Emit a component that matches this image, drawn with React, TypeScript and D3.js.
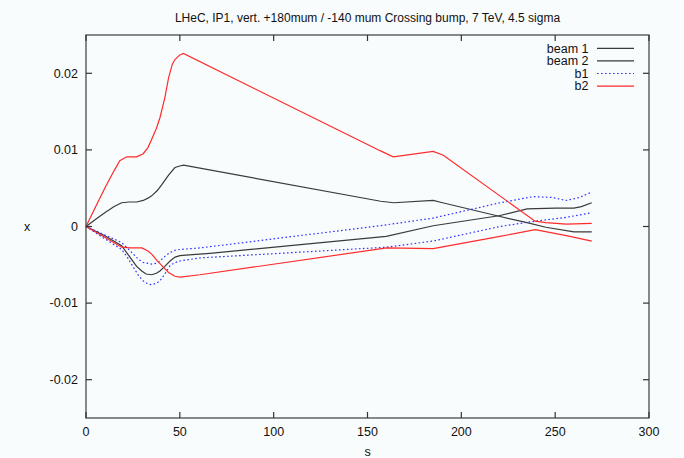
import React from "react";
import * as d3 from "d3";

type P = [number, number];

const titleText = "LHeC, IP1, vert. +180mum / -140 mum Crossing bump, 7 TeV, 4.5 sigma";
const xTicks = [0, 50, 100, 150, 200, 250, 300];
const yTicks = [-0.02, -0.01, 0, 0.01, 0.02];
const yTickLabels = ["-0.02", "-0.01", "0", "0.01", "0.02"];
const legendLabels = ["beam 1", "beam 2", "b1", "b2"];

const beam1: P[] = [
  [0, 0], [5, 0.0009], [10, 0.0018], [15, 0.0026], [19, 0.0031], [23, 0.0032], [27, 0.0032],
  [30.5, 0.0034], [33, 0.0037], [35, 0.004], [38, 0.0047], [40.5, 0.0055], [44, 0.0067],
  [47.4, 0.0077], [50, 0.0079], [52, 0.008], [157, 0.0033], [164, 0.0031], [185, 0.0034],
  [190, 0.0031], [219, 0.0014], [235, 0.0005], [245, -0.0001], [260, -0.0007], [269.5, -0.0007],
];

const beam2: P[] = [
  [0, 0], [10, -0.0012], [19, -0.0025], [23.4, -0.004], [27, -0.0052], [29.7, -0.0058],
  [32, -0.0062], [35, -0.0063], [37.5, -0.0061], [39.4, -0.0058], [42, -0.0052], [44.8, -0.0045],
  [47.5, -0.004], [50, -0.0038], [55, -0.0037], [66, -0.0035], [160, -0.0013], [185, 0.0001],
  [220, 0.0014], [235, 0.0023], [250, 0.0024], [260, 0.0024], [264, 0.0026], [269.5, 0.0031],
];

const b1Upper: P[] = [
  [0, 0], [10, -0.0011], [19, -0.0021], [22, -0.0028], [25.2, -0.0036], [28, -0.0043],
  [30.5, -0.0047], [35, -0.0049], [37.5, -0.0048], [39.4, -0.0045], [42, -0.0039],
  [44.8, -0.0034], [47.5, -0.0031], [50.1, -0.003], [60.7, -0.0028], [156.7, 0.0001],
  [185, 0.0011], [220.6, 0.0031], [238.4, 0.0039], [248, 0.0038], [256, 0.0034], [263, 0.0038],
  [269.5, 0.0045],
];

const b1Lower: P[] = [
  [0, 0], [10, -0.0016], [19, -0.003], [22, -0.004], [25.2, -0.0053], [28, -0.0064],
  [30.5, -0.0071], [33, -0.0075], [35, -0.0076], [37.5, -0.0074], [39.4, -0.0071], [42, -0.0062],
  [44.8, -0.0051], [47.5, -0.0047], [50.1, -0.0045], [60.7, -0.0041], [160.2, -0.0027],
  [185, -0.0019], [220.6, 0.0], [239.3, 0.0007], [256, 0.0012], [269.5, 0.0018],
];

const b2Upper: P[] = [
  [0, 0], [5, 0.0025], [10, 0.005], [15, 0.0073], [18, 0.0086], [21.7, 0.0091], [27, 0.0091],
  [30.5, 0.0095], [33, 0.0103], [35, 0.0114], [37.5, 0.0128], [39.4, 0.0142], [42, 0.0168],
  [44, 0.0194], [46, 0.0212], [47.4, 0.0218], [50, 0.0224], [51.9, 0.0226], [156.7, 0.0099],
  [163.7, 0.0091], [185, 0.0098], [190.4, 0.0093], [239.3, 0.0007], [245, 0.0005],
  [256, 0.0003], [269.5, 0.0004],
];

const b2Lower: P[] = [
  [0, 0], [10, -0.0014], [19, -0.0027], [23.4, -0.0028], [29.7, -0.0028], [33, -0.0032],
  [35, -0.0036], [38, -0.0045], [41.2, -0.0053], [44, -0.006], [47.4, -0.0065], [50.1, -0.0066],
  [60.7, -0.0063], [160.2, -0.0028], [185, -0.0029], [220.6, -0.0013], [239.3, -0.0004],
  [256, -0.0012], [269.5, -0.0019],
];

const W = 684;
const H = 458;
const L = 86, R = 649, T = 35, B = 418;
const FONT = "'Liberation Sans', Arial, Helvetica, sans-serif";

const BLACK = "#3a3a3a";
const RED = "#ff2a2a";
const BLUE = "#3030ff";

export default function App() {
  const x = d3.scaleLinear().domain([0, 300]).range([L, R]);
  const y = d3.scaleLinear().domain([-0.025, 0.025]).range([B, T]);
  const line = d3.line<P>().x((d) => x(d[0])).y((d) => y(d[1])).curve(d3.curveLinear);

  const series = [
    { data: beam1, color: BLACK, dash: undefined as string | undefined },
    { data: beam2, color: BLACK, dash: undefined },
    { data: b1Upper, color: BLUE, dash: "1.6,2.4" },
    { data: b1Lower, color: BLUE, dash: "1.6,2.4" },
    { data: b2Upper, color: RED, dash: undefined },
    { data: b2Lower, color: RED, dash: undefined },
  ];
  const legendStyles = [
    { color: BLACK, dash: undefined as string | undefined },
    { color: BLACK, dash: undefined },
    { color: BLUE, dash: "1.6,2.4" },
    { color: RED, dash: undefined },
  ];

  const tickLen = 6;
  const fs = 12.5;
  return (
    <svg width={W} height={H} style={{ position: "absolute", left: 0, top: 0, background: "#f8fcfd" }}>
      <rect x={0} y={0} width={W} height={H} fill="#f8fcfd" />
      <text x={(L + R) / 2} y={22} textAnchor="middle" fontFamily={FONT} fontSize={12} fill="#111">
        {titleText}
      </text>
      {series.map((s, i) => (
        <path key={i} d={line(s.data) || ""} fill="none" stroke={s.color} strokeWidth={1.2}
          strokeDasharray={s.dash} />
      ))}
      <rect x={L} y={T} width={R - L} height={B - T} fill="none" stroke="#4a4a4a" strokeWidth={1.3} />
      {xTicks.map((t, i) => (
        <g key={"xt" + i}>
          <line x1={x(t)} x2={x(t)} y1={B} y2={B - tickLen} stroke="#333" strokeWidth={1.2} />
          <line x1={x(t)} x2={x(t)} y1={T} y2={T + tickLen} stroke="#333" strokeWidth={1.2} />
          <text x={x(t)} y={436} textAnchor="middle" fontFamily={FONT} fontSize={fs} fill="#111">
            {t}
          </text>
        </g>
      ))}
      {yTicks.map((t, i) => (
        <g key={"yt" + i}>
          <line x1={L} x2={L + tickLen} y1={y(t)} y2={y(t)} stroke="#333" strokeWidth={1.2} />
          <line x1={R} x2={R - tickLen} y1={y(t)} y2={y(t)} stroke="#333" strokeWidth={1.2} />
          <text x={78} y={y(t) + 4.3} textAnchor="end" fontFamily={FONT} fontSize={fs} fill="#111">
            {yTickLabels[i]}
          </text>
        </g>
      ))}
      <text x={(L + R) / 2} y={456} textAnchor="middle" fontFamily={FONT} fontSize={fs} fill="#111">s</text>
      <text x={27} y={y(0) + 4} textAnchor="middle" fontFamily={FONT} fontSize={fs} fill="#111">x</text>
      {legendLabels.map((lab, i) => {
        const ly = 48.3 + i * 12.6;
        return (
          <g key={"lg" + i}>
            <text x={588.5} y={ly + 4.3} textAnchor="end" fontFamily={FONT} fontSize={fs} fill="#111">{lab}</text>
            <line x1={597} x2={634} y1={ly} y2={ly} stroke={legendStyles[i].color} strokeWidth={1.2}
              strokeDasharray={legendStyles[i].dash} />
          </g>
        );
      })}
    </svg>
  );
}
